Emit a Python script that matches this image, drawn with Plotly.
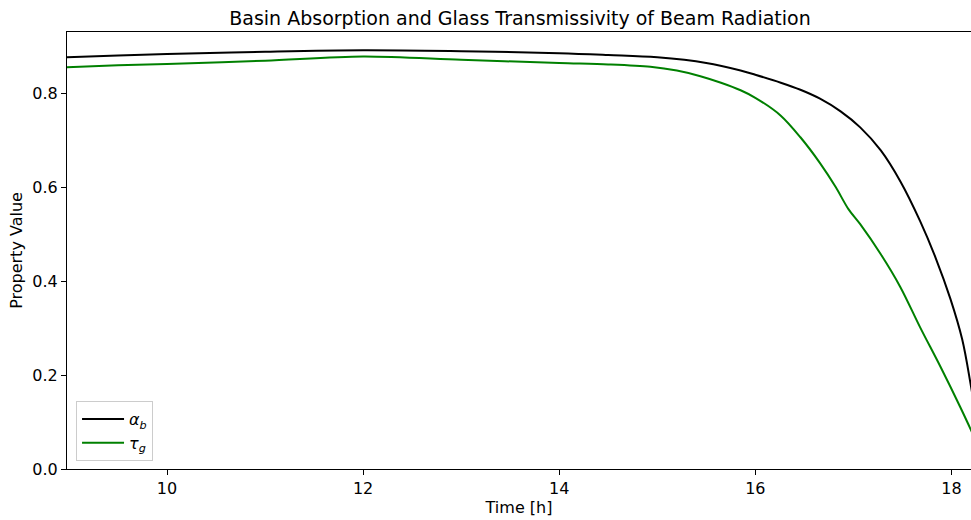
import plotly.graph_objects as go

# Time of day [h]
time_alpha = [8.98, 9.5, 10.0, 11.0, 12.0, 13.0, 14.0, 14.5, 15.0, 15.5, 15.85, 16.0,
              16.26, 16.46, 16.66, 16.87, 17.07, 17.28, 17.48, 17.68, 17.84, 17.99, 18.11, 18.2, 18.3]
alpha_b = [0.876, 0.880, 0.883, 0.888, 0.891, 0.889, 0.885, 0.881, 0.876, 0.864, 0.848, 0.839,
           0.822, 0.807, 0.788, 0.761, 0.727, 0.678, 0.612, 0.528, 0.449, 0.362, 0.276, 0.176, 0.05]

time_tau = [8.98, 9.5, 10.0, 11.0, 12.0, 13.0, 14.0, 14.5, 14.93, 15.2, 15.44, 15.65, 15.85, 16.0,
            16.26, 16.46, 16.66, 16.82, 16.95, 17.07, 17.28, 17.48, 17.68, 17.89, 18.09, 18.2, 18.3]
tau_g = [0.855, 0.859, 0.862, 0.869, 0.878, 0.871, 0.864, 0.861, 0.856, 0.848, 0.836, 0.822, 0.806, 0.790,
         0.752, 0.706, 0.651, 0.600, 0.553, 0.521, 0.457, 0.387, 0.302, 0.217, 0.132, 0.083, 0.038]

fig = go.Figure()
fig.add_trace(go.Scatter(
    x=time_alpha, y=alpha_b, mode="lines", name="<i>α</i><sub><i>b</i></sub>",
    line=dict(color="black", width=2, shape="spline", smoothing=1.0),
))
fig.add_trace(go.Scatter(
    x=time_tau, y=tau_g, mode="lines", name="<i>τ</i><sub><i>g</i></sub>",
    line=dict(color="#008000", width=2, shape="spline", smoothing=0.9),
))

axis_font = dict(family="DejaVu Sans", size=16, color="black")
fig.update_layout(
    width=971, height=520,
    margin=dict(l=67, r=0, t=32, b=51),
    paper_bgcolor="white", plot_bgcolor="white",
    font=dict(family="DejaVu Sans", size=16, color="black"),
    title=dict(text="Basin Absorption and Glass Transmissivity of Beam Radiation",
               x=520 / 971, xanchor="center", y=1 - 18 / 520, yanchor="middle",
               font=dict(family="DejaVu Sans", size=19, color="black")),
    showlegend=True,
    legend=dict(x=0.01, y=0.018, xanchor="left", yanchor="bottom",
                bgcolor="rgba(255,255,255,0.8)", bordercolor="#cccccc", borderwidth=1,
                font=dict(family="DejaVu Sans", size=16, color="black"),
                tracegroupgap=0, itemwidth=42),
)
fig.update_xaxes(
    range=[8.98, 18.2], tickvals=[10, 12, 14, 16, 18], ticktext=["10", "12", "14", "16", "18"],
    showgrid=False, zeroline=False, showline=True, linecolor="black", linewidth=1,
    mirror=True, ticks="outside", ticklen=5, tickcolor="black", tickfont=axis_font,
    title=dict(text="Time [h]", font=axis_font, standoff=4),
)
fig.update_yaxes(
    range=[0, 0.93], tickvals=[0, 0.2, 0.4, 0.6, 0.8],
    ticktext=["0.0", "0.2", "0.4", "0.6", "0.8"],
    showgrid=False, zeroline=False, showline=True, linecolor="black", linewidth=1,
    ticks="outside", ticklen=5, tickcolor="black", tickfont=axis_font,
    title=dict(text="Property Value", font=axis_font, standoff=5),
)

fig.write_html("out.html")
